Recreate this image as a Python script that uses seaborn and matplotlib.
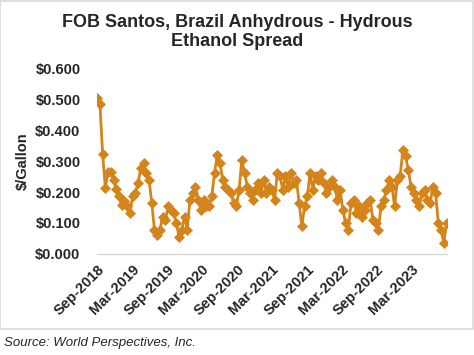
import pandas as pd
import numpy as np
import matplotlib
matplotlib.use("Agg")
import matplotlib.pyplot as plt
import matplotlib.dates as mdates
from matplotlib.patches import Rectangle
import seaborn as sns

# biweekly spread readings, Sep-2018 .. Aug-2023 ($/gallon)
spread = [
    0.505, 0.487, 0.324, 0.214, 0.267, 0.267, 0.240, 0.210, 0.186, 0.159,
    0.170, 0.154, 0.133, 0.186, 0.198, 0.230, 0.279, 0.295, 0.263, 0.240,
    0.165, 0.078, 0.062, 0.078,
    0.121, 0.110, 0.154, 0.143, 0.133, 0.100, 0.056, 0.078, 0.121, 0.078,
    0.175, 0.198, 0.218, 0.175, 0.143, 0.175, 0.154,
    0.154, 0.186, 0.263, 0.321, 0.295, 0.240, 0.218, 0.208, 0.198, 0.165,
    0.154, 0.208, 0.305, 0.263, 0.218, 0.198, 0.175, 0.208, 0.230, 0.198,
    0.240, 0.198, 0.218, 0.208, 0.175, 0.263, 0.251, 0.208, 0.251, 0.218,
    0.263, 0.230, 0.240, 0.165, 0.089, 0.154, 0.186, 0.263, 0.208, 0.251,
    0.240, 0.263, 0.230, 0.198, 0.218, 0.240, 0.218, 0.175, 0.208, 0.143,
    0.100, 0.078, 0.165, 0.175, 0.133, 0.154, 0.121, 0.143, 0.165,
    0.175, 0.110, 0.100, 0.078, 0.154, 0.175, 0.208, 0.240, 0.218, 0.154,
    0.240, 0.251, 0.337, 0.316, 0.273, 0.218, 0.198, 0.175, 0.154,
    0.198, 0.208, 0.175, 0.165, 0.218, 0.198, 0.100, 0.078, 0.035, 0.100,
]
start_date = "2018-09-01"
end_date = "2023-09-01"
tick_dates = pd.date_range("2018-09-01", "2023-03-01", freq="6MS")
yticks = [0.0, 0.1, 0.2, 0.3, 0.4, 0.5, 0.6]

dates = pd.date_range(start_date, end_date, periods=len(spread))
df = pd.DataFrame({"date": dates, "spread": spread})

sns.set_style("white")
plt.rcParams["font.family"] = ["Liberation Sans", "DejaVu Sans"]

fig = plt.figure(figsize=(4.74, 3.55), dpi=100)
ax = fig.add_axes([0.205, 0.285, 0.737, 0.521])

orange = "#D4841A"
sns.lineplot(data=df, x="date", y="spread", ax=ax, color=orange,
             linewidth=2.0, marker="D", markersize=5.5,
             markeredgecolor=orange, markeredgewidth=0.5)

ax.set_xlim(pd.Timestamp(start_date), pd.Timestamp(end_date))
ax.set_ylim(0, 0.6)
ax.set_yticks(yticks)
ax.set_yticklabels([f"${v:.3f}" for v in yticks], fontweight="bold", fontsize=10.5)
ax.set_xticks(tick_dates)
ax.xaxis.set_major_formatter(mdates.DateFormatter("%b-%Y"))
plt.setp(ax.get_xticklabels(), rotation=45, ha="right", rotation_mode="anchor",
         fontweight="bold", fontsize=10.5)

for s in ["top", "right", "left"]:
    ax.spines[s].set_visible(False)
ax.spines["bottom"].set_color("#D9D9D9")
ax.spines["bottom"].set_linewidth(1.0)
ax.tick_params(axis="x", length=3, color="#D9D9D9", width=1, pad=3)
ax.tick_params(axis="y", length=0, pad=12)

ax.set_xlabel("")
ax.set_ylabel("$/Gallon", fontweight="bold", fontsize=10.5, labelpad=4)

fig.text(0.5, 0.96, "FOB Santos, Brazil Anhydrous - Hydrous\nEthanol Spread",
         ha="center", va="top", fontweight="bold", fontsize=13, linespacing=1.15)
fig.text(0.008, 0.033, "Source: World Perspectives, Inc.", ha="left", va="center",
         fontstyle="italic", fontsize=9.5)

fig.patches.append(Rectangle((0.001, 0.073), 0.996, 0.925, transform=fig.transFigure,
                             fill=False, edgecolor="#D9D9D9", linewidth=1.2))

fig.savefig("out.png", dpi=100)
